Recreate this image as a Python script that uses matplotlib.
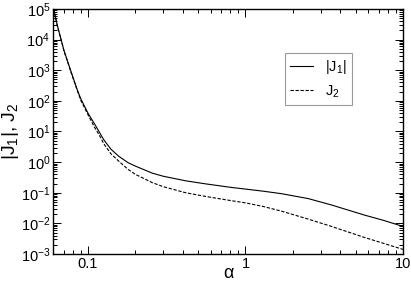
import numpy as np
import matplotlib
matplotlib.use("Agg")
import matplotlib.pyplot as plt
from matplotlib.ticker import LogLocator, FixedLocator, FixedFormatter, NullFormatter

plt.rcParams['font.family'] = ['Liberation Sans', 'DejaVu Sans']
plt.rcParams['mathtext.fontset'] = 'custom'
plt.rcParams['mathtext.rm'] = 'Liberation Sans'
plt.rcParams['mathtext.it'] = 'Liberation Sans'
plt.rcParams['mathtext.default'] = 'regular'

# --- data (log10 of the values) ---
alpha = [0.0605, 0.064, 0.0705, 0.0776, 0.085, 0.09, 0.1, 0.11, 0.1175, 0.126, 0.14,
         0.157, 0.18, 0.2, 0.256, 0.3, 0.417, 0.558, 0.815, 1.0, 1.3, 1.69, 2.5, 3.52,
         5.7, 7.5, 10.0]
log_j1 = [5.0, 4.45, 3.64, 3.0, 2.4, 2.07, 1.6, 1.25, 1.0, 0.73, 0.42,
          0.19, -0.02, -0.13, -0.36, -0.46, -0.61, -0.71, -0.827, -0.88, -0.95, -1.03, -1.19, -1.4,
          -1.73, -1.9, -2.1]
log_j2 = [5.0, 4.44, 3.62, 2.97, 2.38, 2.02, 1.55, 1.14, 0.9, 0.6, 0.27,
          0.03, -0.24, -0.40, -0.67, -0.80, -1.0, -1.12, -1.26, -1.33, -1.45, -1.6, -1.86, -2.1,
          -2.46, -2.65, -2.85]

j1 = 10.0 ** np.array(log_j1)
j2 = 10.0 ** np.array(log_j2)

fig = plt.figure(figsize=(4.11, 2.82), dpi=100)
ax = fig.add_axes([0.129, 0.0993, 0.8515, 0.8688])

ax.plot(alpha, j1, color='black', lw=0.8, label=r'$|J_1|$')
ax.plot(alpha, j2, color='black', lw=0.8, ls=(0, (3, 1.5)), label=r'$J_2$')

ax.set_xscale('log')
ax.set_yscale('log')
ax.set_xlim(0.06, 10)
ax.set_ylim(1e-3, 1e5)

ax.xaxis.set_major_locator(FixedLocator([0.1, 1, 10]))
ax.xaxis.set_major_formatter(FixedFormatter(['0.1', '1', '10']))
ax.xaxis.set_minor_locator(LogLocator(base=10, subs=np.arange(2, 10), numticks=20))
ax.xaxis.set_minor_formatter(NullFormatter())
ax.yaxis.set_major_locator(LogLocator(base=10, numticks=20))
ax.yaxis.set_minor_locator(LogLocator(base=10, subs=np.arange(2, 10), numticks=20))
ax.yaxis.set_minor_formatter(NullFormatter())

ax.tick_params(which='both', direction='in', top=True, right=True, labelsize=10.5,
               width=0.7, pad=2)
ax.tick_params(which='major', length=6)
ax.tick_params(which='minor', length=3)
for s in ax.spines.values():
    s.set_linewidth(1.0)

ax.set_xlabel('α', fontsize=13, labelpad=-4)
ax.set_ylabel(r'$|J_1|$, $J_2$', fontsize=14, labelpad=0)

leg = ax.legend(loc='upper left', bbox_to_anchor=(0.663, 0.82), borderaxespad=0,
                fontsize=10.5, frameon=True, fancybox=False, edgecolor='gray',
                handlelength=1.6, borderpad=0.35, labelspacing=0.5, handletextpad=0.8)
leg.get_frame().set_linewidth(0.8)

fig.savefig('out.png', dpi=100)
